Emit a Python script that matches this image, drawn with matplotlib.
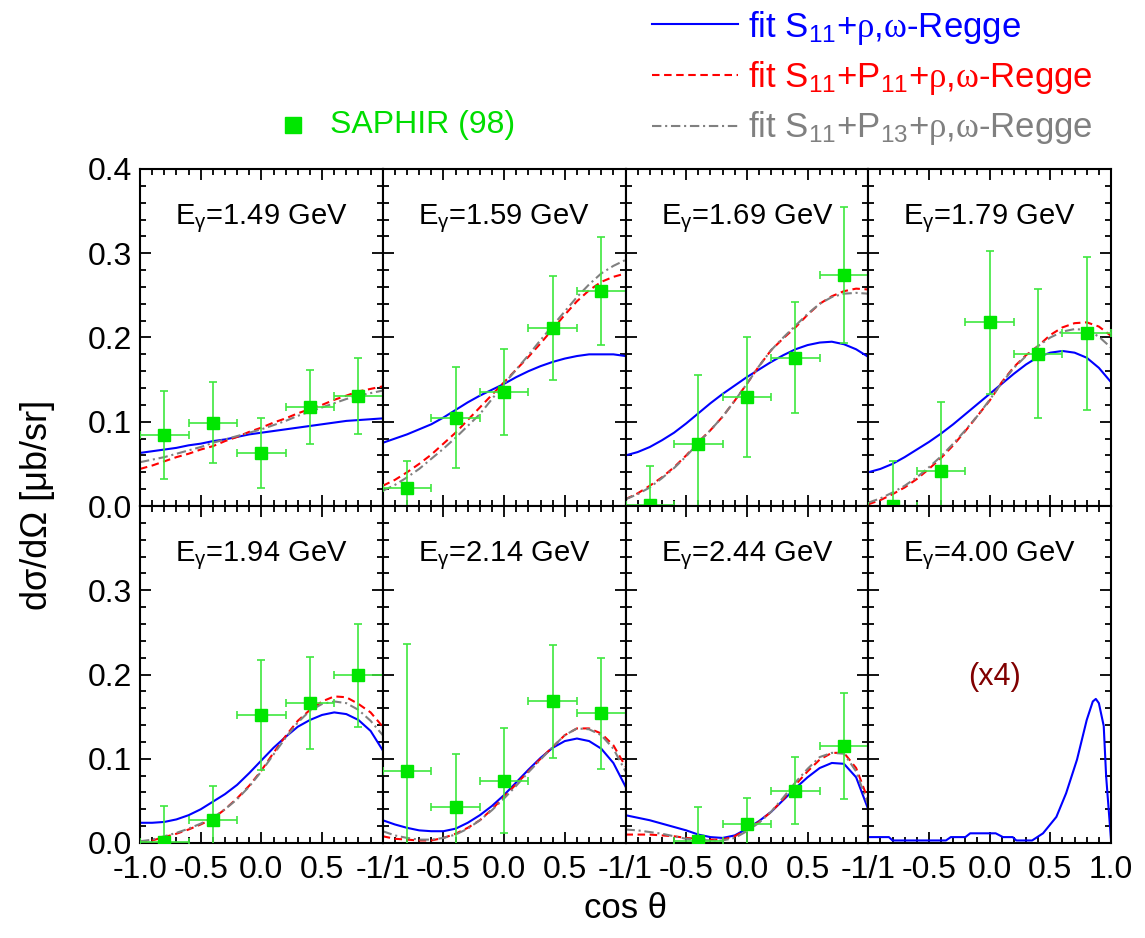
import numpy as np
import matplotlib
matplotlib.use('Agg')
import matplotlib.pyplot as plt
from matplotlib.lines import Line2D
from matplotlib.ticker import MultipleLocator, FuncFormatter

plt.rcParams['font.family'] = ['Liberation Sans', 'DejaVu Sans']
plt.rcParams['mathtext.fontset'] = 'custom'
plt.rcParams['mathtext.rm'] = 'Liberation Sans'
plt.rcParams['mathtext.it'] = 'Liberation Sans:italic'
plt.rcParams['mathtext.bf'] = 'Liberation Sans:bold'
plt.rcParams['mathtext.sf'] = 'Liberation Serif'   # serif rho/omega in the fit labels

# photon energies of the eight panels
energies = ['1.49', '1.59', '1.69', '1.79', '1.94', '2.14', '2.44', '4.00']

# model curves sampled on cos(theta) = -1.0 ... 1.0, step 0.1
cos_grid = np.linspace(-1.0, 1.0, 21)

fit_s11 = [
    [0.063, 0.065, 0.067, 0.069, 0.072, 0.074, 0.077, 0.079, 0.082, 0.085, 0.087, 0.089, 0.091, 0.093, 0.095, 0.097, 0.099, 0.101, 0.102, 0.103, 0.104],
    [0.075, 0.080, 0.085, 0.091, 0.097, 0.105, 0.114, 0.123, 0.131, 0.138, 0.145, 0.153, 0.160, 0.166, 0.171, 0.175, 0.178, 0.180, 0.180, 0.180, 0.178],
    [0.060, 0.064, 0.070, 0.078, 0.087, 0.098, 0.110, 0.122, 0.133, 0.143, 0.153, 0.162, 0.171, 0.179, 0.186, 0.191, 0.194, 0.195, 0.192, 0.186, 0.177],
    [0.040, 0.044, 0.050, 0.058, 0.067, 0.076, 0.086, 0.097, 0.109, 0.121, 0.133, 0.145, 0.157, 0.168, 0.177, 0.182, 0.184, 0.182, 0.176, 0.164, 0.147],
    [0.024, 0.024, 0.025, 0.028, 0.033, 0.040, 0.049, 0.058, 0.069, 0.083, 0.098, 0.113, 0.126, 0.138, 0.146, 0.152, 0.155, 0.153, 0.146, 0.133, 0.110],
    [0.027, 0.022, 0.018, 0.015, 0.014, 0.014, 0.017, 0.024, 0.033, 0.044, 0.057, 0.072, 0.087, 0.101, 0.113, 0.121, 0.124, 0.121, 0.112, 0.095, 0.067],
    [0.033, 0.030, 0.027, 0.023, 0.019, 0.015, 0.010, 0.007, 0.006, 0.009, 0.017, 0.026, 0.037, 0.051, 0.065, 0.078, 0.089, 0.095, 0.094, 0.078, 0.040],
]
fit_s11_p11 = [
    [0.044, 0.048, 0.053, 0.058, 0.062, 0.067, 0.071, 0.077, 0.082, 0.088, 0.093, 0.099, 0.104, 0.110, 0.115, 0.120, 0.126, 0.131, 0.136, 0.139, 0.142],
    [0.024, 0.031, 0.040, 0.050, 0.061, 0.074, 0.087, 0.102, 0.117, 0.132, 0.147, 0.162, 0.177, 0.193, 0.210, 0.227, 0.243, 0.256, 0.266, 0.272, 0.276],
    [0.008, 0.015, 0.024, 0.034, 0.046, 0.060, 0.076, 0.090, 0.106, 0.125, 0.145, 0.166, 0.185, 0.199, 0.212, 0.227, 0.240, 0.249, 0.255, 0.258, 0.257],
    [0.002, 0.007, 0.014, 0.022, 0.032, 0.044, 0.057, 0.072, 0.089, 0.107, 0.125, 0.147, 0.165, 0.179, 0.190, 0.203, 0.212, 0.217, 0.218, 0.213, 0.202],
    [0.000, 0.003, 0.007, 0.011, 0.016, 0.022, 0.029, 0.040, 0.053, 0.068, 0.086, 0.107, 0.127, 0.145, 0.158, 0.168, 0.174, 0.173, 0.165, 0.155, 0.138],
    [0.008, 0.005, 0.004, 0.003, 0.003, 0.006, 0.011, 0.018, 0.027, 0.040, 0.055, 0.070, 0.085, 0.100, 0.114, 0.128, 0.136, 0.136, 0.130, 0.116, 0.091],
    [0.010, 0.010, 0.010, 0.009, 0.008, 0.006, 0.005, 0.004, 0.004, 0.008, 0.016, 0.025, 0.037, 0.052, 0.069, 0.085, 0.099, 0.107, 0.107, 0.089, 0.051],
]
fit_s11_p13 = [
    [0.052, 0.055, 0.058, 0.062, 0.066, 0.070, 0.075, 0.079, 0.083, 0.087, 0.091, 0.096, 0.101, 0.107, 0.112, 0.117, 0.122, 0.127, 0.131, 0.134, 0.137],
    [0.018, 0.025, 0.034, 0.044, 0.056, 0.068, 0.081, 0.095, 0.109, 0.127, 0.145, 0.162, 0.179, 0.197, 0.214, 0.231, 0.248, 0.263, 0.276, 0.285, 0.292],
    [0.008, 0.014, 0.022, 0.033, 0.045, 0.059, 0.075, 0.090, 0.106, 0.125, 0.145, 0.166, 0.185, 0.200, 0.214, 0.228, 0.240, 0.248, 0.252, 0.253, 0.252],
    [0.004, 0.009, 0.016, 0.024, 0.034, 0.046, 0.059, 0.074, 0.090, 0.107, 0.126, 0.146, 0.164, 0.178, 0.190, 0.200, 0.207, 0.210, 0.209, 0.201, 0.188],
    [0.002, 0.004, 0.008, 0.012, 0.017, 0.023, 0.030, 0.040, 0.052, 0.067, 0.085, 0.105, 0.125, 0.143, 0.157, 0.165, 0.168, 0.166, 0.158, 0.145, 0.128],
    [0.014, 0.009, 0.006, 0.004, 0.004, 0.006, 0.010, 0.017, 0.027, 0.039, 0.053, 0.068, 0.084, 0.099, 0.114, 0.128, 0.136, 0.135, 0.128, 0.112, 0.085],
    [0.016, 0.015, 0.013, 0.011, 0.008, 0.005, 0.004, 0.003, 0.003, 0.006, 0.014, 0.024, 0.037, 0.054, 0.072, 0.088, 0.102, 0.107, 0.106, 0.085, 0.045],
]

# 4.00 GeV prediction (scaled x4), S11 fit only
cos_4gev = [-1.0, -0.83, -0.80, -0.36, -0.32, -0.20, -0.16, 0.05, 0.11, 0.19, 0.22, 0.35,
            0.44, 0.55, 0.63, 0.72, 0.80, 0.85, 0.875, 0.90, 0.94, 0.96, 1.0]
xs_4gev = [0.007, 0.007, 0.003, 0.003, 0.007, 0.007, 0.0115, 0.0115, 0.007, 0.007, 0.003, 0.003,
           0.0115, 0.031, 0.059, 0.099, 0.146, 0.168, 0.171, 0.166, 0.139, 0.079, 0.004]

# SAPHIR (98) data
saphir_cos = [
    [-0.8, -0.4, 0.0, 0.4, 0.8],
    [-0.8, -0.4, 0.0, 0.4, 0.8],
    [-0.8, -0.4, 0.0, 0.4, 0.8],
    [-0.8, -0.4, 0.0, 0.4, 0.8],
    [-0.8, -0.4, 0.0, 0.4, 0.8],
    [-0.8, -0.4, 0.0, 0.4, 0.8],
    [-0.4, 0.0, 0.4, 0.8],
]
saphir_xs = [
    [0.084, 0.099, 0.063, 0.118, 0.131],
    [0.021, 0.105, 0.135, 0.211, 0.255],
    [0.001, 0.073, 0.129, 0.176, 0.274],
    [0.000, 0.041, 0.218, 0.181, 0.205],
    [0.001, 0.027, 0.152, 0.166, 0.199],
    [0.086, 0.043, 0.074, 0.168, 0.154],
    [0.002, 0.023, 0.062, 0.115],
]
saphir_err = [
    [0.052, 0.048, 0.042, 0.044, 0.045],
    [0.032, 0.060, 0.051, 0.062, 0.064],
    [0.046, 0.083, 0.071, 0.066, 0.081],
    [0.053, 0.082, 0.085, 0.076, 0.091],
    [0.043, 0.041, 0.065, 0.055, 0.061],
    [0.150, 0.063, 0.062, 0.067, 0.066],
    [0.041, 0.031, 0.040, 0.063],
]
bin_halfwidth = 0.2

rho_omega = r'$\mathsf{\rho}$,$\mathsf{\omega}$'
labels = [r'fit S$_{\mathrm{11}}$+' + rho_omega + '-Regge',
          r'fit S$_{\mathrm{11}}$+P$_{\mathrm{11}}$+' + rho_omega + '-Regge',
          r'fit S$_{\mathrm{11}}$+P$_{\mathrm{13}}$+' + rho_omega + '-Regge']
BLUE, RED, GRAY, GREEN = '#0000ff', '#ff0000', '#808080', '#00e600'
styles = [dict(color=BLUE, ls='-'),
          dict(color=RED, ls=(0, (3.6, 2.2))),
          dict(color=GRAY, ls=(0, (4.5, 1.8, 1.0, 1.8)))]


def x_label_fmt(col):
    # neighbouring panels share the +-1 edge: one merged label there
    def fmt(v, p):
        if v > 0.99 and col < 3:
            return ''
        if v < -0.99 and col > 0:
            return '-1/1'
        return f'{v:.1f}'
    return fmt


W, H = 1145, 938
fig, axes = plt.subplots(2, 4, figsize=(W / 100, H / 100), dpi=100)
fig.subplots_adjust(left=140 / W, right=1111 / W, top=1 - 169 / H, bottom=1 - 843 / H,
                    wspace=0, hspace=0)

for i, ax in enumerate(axes.flat):
    row, col = divmod(i, 4)
    if i < 7:
        for curves, st in zip([fit_s11, fit_s11_p11, fit_s11_p13], styles):
            ax.plot(cos_grid, curves[i], lw=1.5, **st)
        ax.errorbar(saphir_cos[i], saphir_xs[i], xerr=bin_halfwidth, yerr=saphir_err[i],
                    fmt='s', ms=9, mfc=GREEN, mec=GREEN, ecolor='#3ee83e',
                    elinewidth=1.2, capsize=3, capthick=1.2, zorder=5)
    else:
        ax.plot(cos_4gev, xs_4gev, lw=1.5, **styles[0])
        ax.text(0.52, 0.494, '(x4)', transform=ax.transAxes, ha='center', va='center',
                fontsize=22, color='#800000')

    ax.text(0.5, 0.836, r'E$_{\mathrm{\gamma}}$=' + energies[i] + ' GeV', transform=ax.transAxes,
            ha='center', va='baseline', fontsize=21)

    ax.set_xlim(-1, 1)
    ax.set_ylim(0, 0.4)
    ax.xaxis.set_major_locator(MultipleLocator(0.5))
    ax.xaxis.set_minor_locator(MultipleLocator(0.1))
    ax.yaxis.set_major_locator(MultipleLocator(0.1))
    ax.yaxis.set_minor_locator(MultipleLocator(0.02))
    ax.xaxis.set_major_formatter(FuncFormatter(x_label_fmt(col)))
    if row == 1:
        # top label of the lower row sits on the 0.0 of the upper row
        ax.yaxis.set_major_formatter(FuncFormatter(lambda v, p: '' if v > 0.39 else f'{v:.1f}'))
    else:
        ax.yaxis.set_major_formatter(FuncFormatter(lambda v, p: f'{v:.1f}'))
    ax.tick_params(which='both', direction='in', top=True, right=True, width=1.3,
                   labelsize=23, labelbottom=(row == 1), labelleft=(col == 0))
    ax.tick_params(which='major', length=8)
    ax.tick_params(which='minor', length=4)
    ax.tick_params(axis='x', pad=9)
    ax.tick_params(axis='y', pad=6)
    for sp in ax.spines.values():
        sp.set_linewidth(1.5)

# model key, top right
for k, (lab, st) in enumerate(zip(labels, styles)):
    y_line = 1 - (24 + 51 * k) / H
    fig.add_artist(Line2D([652 / W, 738 / W], [y_line, y_line], lw=1.5,
                          transform=fig.transFigure, **st))
    fig.text(748 / W, 1 - (37 + 50 * k) / H, lab, color=st['color'], fontsize=25, va='baseline')

# data key
fig.add_artist(Line2D([293 / W], [1 - 125 / H], marker='s', ms=11, color=GREEN, ls='none',
                      transform=fig.transFigure))
fig.text(330 / W, 1 - 125 / H, 'SAPHIR (98)', color='#00dd00', fontsize=23, va='center')

fig.text(38 / W, 1 - 505 / H, 'd\u03c3/d\u03a9 [\u03bcb/sr]', rotation=90, ha='center', va='center',
         fontsize=26)
fig.text(625 / W, 1 - 908 / H, 'cos \u03b8', ha='center', va='center', fontsize=25)

fig.savefig('out.png', dpi=100)
